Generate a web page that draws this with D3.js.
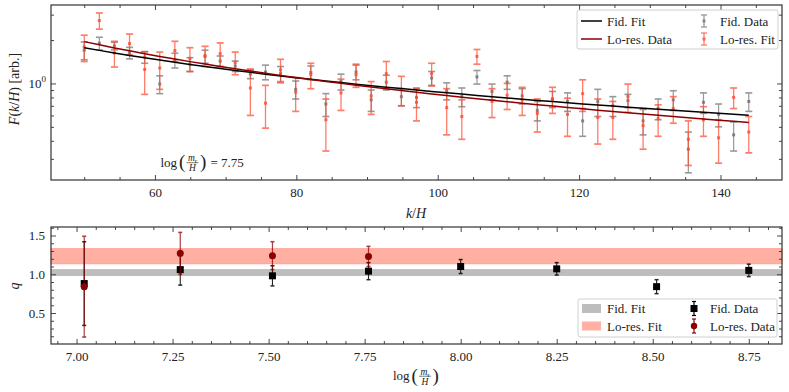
<!DOCTYPE html>
<html>
<head>
<meta charset="utf-8">
<script src="https://cdn.jsdelivr.net/npm/d3@7"></script>
<style>
  body { margin: 0; background: #fff; }
  svg, text { font-family: 'Liberation Serif', 'DejaVu Serif', serif; fill: #222; }
</style>
</head>
<body>
<script>
// top panel: F(k/H) at log(m_r/H) = 7.75
let kVals = [50.00, 52.14, 54.27, 56.41, 58.55, 60.68, 62.82, 64.95, 67.09, 69.23,
             71.36, 73.50, 75.64, 77.77, 79.91, 82.05, 84.18, 86.32, 88.45, 90.59,
             92.73, 94.86, 97.00, 99.14, 101.27, 103.41, 105.55, 107.68, 109.82, 111.95,
             114.09, 116.23, 118.36, 120.50, 122.64, 124.77, 126.91, 129.05, 131.18, 133.32,
             135.45, 137.59, 139.73, 141.86, 144.00]

let fidVal = [1.70, 1.90, 1.82, 1.63, 1.52, 0.99, 1.45, 1.36, 1.54, 1.43,
              1.32, 1.16, 1.20, 1.17, 0.91, 1.19, 0.72, 1.03, 1.20, 0.77,
              1.02, 0.81, 0.80, 1.09, 0.89, 0.81, 1.11, 0.88, 1.02, 0.82,
              0.65, 0.78, 0.75, 0.55, 0.75, 0.70, 0.76, 0.55, 0.67, 0.77,
              0.35, 0.74, 0.61, 0.44, 0.75]
let fidErr = [0.24, 0.19, 0.11, 0.15, 0.14, 0.14, 0.17, 0.15, 0.16, 0.12,
              0.11, 0.08, 0.14, 0.14, 0.13, 0.13, 0.13, 0.13, 0.14, 0.13,
              0.12, 0.11, 0.12, 0.12, 0.12, 0.12, 0.12, 0.11, 0.11, 0.10,
              0.10, 0.10, 0.11, 0.12, 0.16, 0.11, 0.08, 0.11, 0.11, 0.12,
              0.11, 0.12, 0.11, 0.10, 0.11]

let loVal = [1.79, 2.73, 1.63, 1.89, 1.25, 1.28, 1.69, 1.49, 1.56, 1.61,
             1.40, 0.93, 0.73, 1.24, 0.87, 1.15, 0.56, 0.86, 1.15, 0.82,
             1.17, 0.91, 0.74, 1.17, 0.68, 0.59, 1.54, 0.75, 0.83, 0.77,
             0.62, 0.78, 0.61, 0.85, 0.58, 0.58, 0.81, 0.51, 0.57, 0.67,
             0.41, 0.56, 0.42, 0.80, 0.46]
let loErr = [0.37, 0.35, 0.33, 0.31, 0.41, 0.37, 0.27, 0.28, 0.25, 0.30,
             0.25, 0.33, 0.24, 0.23, 0.23, 0.23, 0.22, 0.21, 0.21, 0.21,
             0.25, 0.21, 0.19, 0.21, 0.24, 0.18, 0.18, 0.17, 0.17, 0.17,
             0.16, 0.16, 0.18, 0.21, 0.20, 0.17, 0.18, 0.16, 0.14, 0.14,
             0.14, 0.13, 0.14, 0.13, 0.13]

// power law fits F = amp * (k/50)^(-q)
let fitPivot = 50
let fidFit = {amp: 1.77, q: 1.02}
let loFit = {amp: 1.95, q: 1.22}

// bottom panel: q vs log(m_r/H)
let logMr = [7.02, 7.27, 7.51, 7.76, 8.00, 8.25, 8.51, 8.75]
let qFid = [0.88, 1.06, 0.98, 1.04, 1.10, 1.07, 0.84, 1.05]
let qFidErr = [0.54, 0.20, 0.13, 0.11, 0.09, 0.08, 0.09, 0.08]
let qLoMr = [7.02, 7.27, 7.51, 7.76]
let qLo = [0.84, 1.27, 1.24, 1.23]
let qLoErr = [0.65, 0.27, 0.18, 0.13]
let qFidBand = [0.983, 1.060]
let qLoBand = [1.135, 1.330]

let xTopTicks = [60, 80, 100, 120, 140]
let xTopMinor = [50, 55, 65, 70, 75, 85, 90, 95, 105, 110, 115, 125, 130, 135, 145]
let yTopMinor = [0.3, 0.4, 0.5, 0.6, 0.7, 0.8, 0.9, 2, 3]
let xBotTicks = [7.00, 7.25, 7.50, 7.75, 8.00, 8.25, 8.50, 8.75]
let xBotMinor = [6.95, 7.05, 7.10, 7.15, 7.20, 7.30, 7.35, 7.40, 7.45, 7.55, 7.60, 7.65, 7.70,
                 7.80, 7.85, 7.90, 7.95, 8.05, 8.10, 8.15, 8.20, 8.30, 8.35, 8.40, 8.45,
                 8.55, 8.60, 8.65, 8.70, 8.80]
let yBotTicks = [0.5, 1.0, 1.5]
let yBotMinor = [0.2, 0.3, 0.4, 0.6, 0.7, 0.8, 0.9, 1.1, 1.2, 1.3, 1.4, 1.6]

let GRAY = '#6e6e6e'
let RED = '#ff4a30'
let DARKRED = '#8b0000'
let FS = 13

let svg = d3.select('body').append('svg')
            .attr('width', 789)
            .attr('height', 392)

let topBox = {l: 51, r: 782, t: 5, b: 180}
let botBox = {l: 51, r: 782, t: 227, b: 344}

let pad = (arr) => {
    let lo = d3.min(arr), hi = d3.max(arr), p = (hi - lo) * 0.05
    return [lo - p, hi + p]
}

let xTop = d3.scaleLinear().domain(pad(kVals)).range([topBox.l, topBox.r])
let yTop = d3.scaleLog().domain([0.214, 3.5]).range([topBox.b, topBox.t])
let xBot = d3.scaleLinear().domain(pad(logMr)).range([botBox.l, botBox.r])
let yBot = d3.scaleLinear().domain([0.10, 1.61]).range([botBox.b, botBox.t])

// inward ticks on all four sides
let frame = (box, xs, ys, xMaj, xMin, yMaj, yMin, xFmt) => {
    let g = svg.append('g')
    let sides = [
        [d3.axisBottom, xs, `translate(0,${box.b})`, xMaj, xMin, xFmt],
        [d3.axisTop, xs, `translate(0,${box.t})`, xMaj, xMin, null],
        [d3.axisLeft, ys, `translate(${box.l},0)`, yMaj, yMin, null],
        [d3.axisRight, ys, `translate(${box.r},0)`, yMaj, yMin, null]
    ]
    sides.forEach(([mk, sc, tr, maj, min, fmt]) => {
        g.append('g').attr('transform', tr)
         .call(mk(sc).tickValues(min).tickSize(-3).tickFormat(''))
         .call(a => a.select('.domain').remove())
        g.append('g').attr('transform', tr)
         .call(mk(sc).tickValues(maj).tickSize(-5).tickPadding(8).tickFormat(fmt ? fmt : ''))
         .call(a => a.select('.domain').remove())
    })
    g.selectAll('line').attr('stroke', '#333').attr('stroke-width', 0.9)
    g.selectAll('g').attr('font-family', null).attr('font-size', FS)
    g.selectAll('text').attr('fill', '#222')
    svg.append('rect').attr('x', box.l).attr('y', box.t)
       .attr('width', box.r - box.l).attr('height', box.b - box.t)
       .attr('fill', 'none').attr('stroke', '#333').attr('stroke-width', 1.2)
    return g
}

let errorbars = (g, xs, ys, xv, vals, errs, color, opts) => {
    let d = xv.map((x, i) => ({x: x, v: vals[i], e: errs[i]}))
    let eg = g.append('g').attr('stroke', color).attr('opacity', opts.alpha)
    eg.selectAll('.bar').data(d).join('line')
      .attr('x1', p => xs(p.x)).attr('x2', p => xs(p.x))
      .attr('y1', p => ys(p.v - p.e)).attr('y2', p => ys(p.v + p.e))
      .attr('stroke-width', opts.lw)
    ;[-1, 1].forEach(s => {
        eg.append('g').selectAll('line').data(d).join('line')
          .attr('x1', p => xs(p.x) - opts.cap).attr('x2', p => xs(p.x) + opts.cap)
          .attr('y1', p => ys(p.v + s * p.e)).attr('y2', p => ys(p.v + s * p.e))
          .attr('stroke-width', opts.lw + 0.4)
    })
    return d
}

// ---------- top panel ----------
let gTop = svg.append('g')

errorbars(gTop, xTop, yTop, kVals, fidVal, fidErr, GRAY, {alpha: 0.7, lw: 1.2, cap: 3.5})
gTop.append('g').selectAll('rect').data(kVals).join('rect')
    .attr('x', d => xTop(d) - 1.5).attr('y', (d, i) => yTop(fidVal[i]) - 1.5)
    .attr('width', 3).attr('height', 3).attr('fill', GRAY).attr('opacity', 0.8)

errorbars(gTop, xTop, yTop, kVals, loVal, loErr, RED, {alpha: 0.72, lw: 1.3, cap: 3.5})
gTop.append('g').selectAll('rect').data(kVals).join('rect')
    .attr('x', d => xTop(d) - 1.5).attr('y', (d, i) => yTop(loVal[i]) - 1.5)
    .attr('width', 3).attr('height', 3).attr('fill', RED).attr('opacity', 0.8)

let fitLine = (fit) => d3.line()
    .x(k => xTop(k))
    .y(k => yTop(fit.amp * Math.pow(k / fitPivot, -fit.q)))

gTop.append('path').datum(kVals).attr('d', fitLine(fidFit))
    .attr('fill', 'none').attr('stroke', '#000').attr('stroke-width', 1.5)
gTop.append('path').datum(kVals).attr('d', fitLine(loFit))
    .attr('fill', 'none').attr('stroke', DARKRED).attr('stroke-width', 1.5)

frame(topBox, xTop, yTop, xTopTicks, xTopMinor, [1], yTopMinor, d3.format('d'))

// 10^0 label
let lab0 = svg.append('text').attr('x', 46).attr('y', yTop(1) + 4.5)
              .attr('text-anchor', 'end').attr('font-size', FS)
lab0.append('tspan').text('10')
lab0.append('tspan').attr('font-size', 9).attr('dy', -6).text('0')

// log(m_r/H) fraction label
let logFrac = (x, y, suffix) => {
    let g = svg.append('g').attr('font-size', FS)
    g.append('text').attr('x', x).attr('y', y).text('log')
    g.append('text').attr('x', x + 18.5).attr('y', y + 1.5).attr('font-size', 19).text('(')
    let fx = x + 32
    let m = g.append('text').attr('x', fx).attr('y', y - 5.5).attr('text-anchor', 'middle').attr('font-size', 9.5)
    m.append('tspan').attr('font-style', 'italic').text('m')
    m.append('tspan').attr('font-size', 7).attr('dy', 2).text('r')
    g.append('line').attr('x1', fx - 6).attr('x2', fx + 6).attr('y1', y - 3.8).attr('y2', y - 3.8)
     .attr('stroke', '#222').attr('stroke-width', 0.6)
    g.append('text').attr('x', fx).attr('y', y + 4.5).attr('text-anchor', 'middle')
     .attr('font-size', 9.5).attr('font-style', 'italic').text('H')
    g.append('text').attr('x', fx + 7.5).attr('y', y + 1.5).attr('font-size', 19).text(')')
    if (suffix) g.append('text').attr('x', fx + 18).attr('y', y).text(suffix)
}
logFrac(160.5, 166.5, '= 7.75')

// axis labels
let yl = svg.append('text').attr('transform', 'translate(19,89) rotate(-90)')
            .attr('text-anchor', 'middle').attr('font-size', 14)
yl.append('tspan').attr('font-style', 'italic').text('F')
yl.append('tspan').text('(')
yl.append('tspan').attr('font-style', 'italic').text('k')
yl.append('tspan').text('/')
yl.append('tspan').attr('font-style', 'italic').text('H')
yl.append('tspan').text(') [arb.]')

let xl = svg.append('text').attr('x', 416).attr('y', 218)
            .attr('text-anchor', 'middle').attr('font-size', 14)
xl.append('tspan').attr('font-style', 'italic').text('k')
xl.append('tspan').text('/')
xl.append('tspan').attr('font-style', 'italic').text('H')

// top legend
let lg = svg.append('g')
lg.append('rect').attr('x', 577).attr('y', 10).attr('width', 201).attr('height', 39).attr('rx', 2)
  .attr('fill', '#fff').attr('fill-opacity', 0.85).attr('stroke', '#d0d0d0')
let topLegLines = [['Fid. Fit', '#000', 21], ['Lo-res. Data', DARKRED, 39]]
topLegLines.forEach(([t, c, y]) => {
    lg.append('line').attr('x1', 581).attr('x2', 602).attr('y1', y).attr('y2', y)
      .attr('stroke', c).attr('stroke-width', 1.5)
    lg.append('text').attr('x', 607).attr('y', y + 4.5).attr('font-size', FS).text(t)
})
let topLegBars = [['Fid. Data', GRAY, 21, 0.7], ['Lo-res. Fit', RED, 39, 0.72]]
topLegBars.forEach(([t, c, y, a]) => {
    let b = lg.append('g').attr('stroke', c).attr('opacity', a).attr('stroke-width', 1.3)
    b.append('line').attr('x1', 704).attr('x2', 704).attr('y1', y - 6).attr('y2', y + 6)
    b.append('line').attr('x1', 701).attr('x2', 707).attr('y1', y - 6).attr('y2', y - 6)
    b.append('line').attr('x1', 701).attr('x2', 707).attr('y1', y + 6).attr('y2', y + 6)
    lg.append('rect').attr('x', 702.5).attr('y', y - 1.5).attr('width', 3).attr('height', 3)
      .attr('fill', c).attr('opacity', a)
    lg.append('text').attr('x', 720).attr('y', y + 4.5).attr('font-size', FS).text(t)
})

// ---------- bottom panel ----------
let gBot = svg.append('g')
gBot.append('rect').attr('x', botBox.l).attr('width', botBox.r - botBox.l)
    .attr('y', yBot(qLoBand[1])).attr('height', yBot(qLoBand[0]) - yBot(qLoBand[1]))
    .attr('fill', '#ffb0a3').attr('stroke', '#ff9a88').attr('stroke-width', 0.8)
gBot.append('rect').attr('x', botBox.l).attr('width', botBox.r - botBox.l)
    .attr('y', yBot(qFidBand[1])).attr('height', yBot(qFidBand[0]) - yBot(qFidBand[1]))
    .attr('fill', '#bdbdbd').attr('stroke', '#b0b0b0').attr('stroke-width', 0.6)

errorbars(gBot, xBot, yBot, logMr, qFid, qFidErr, '#000', {alpha: 0.85, lw: 1.1, cap: 2})
gBot.append('g').selectAll('rect').data(logMr).join('rect')
    .attr('x', d => xBot(d) - 3.5).attr('y', (d, i) => yBot(qFid[i]) - 3.5)
    .attr('width', 7).attr('height', 7).attr('fill', '#000')

errorbars(gBot, xBot, yBot, qLoMr, qLo, qLoErr, DARKRED, {alpha: 0.75, lw: 1.2, cap: 2})
gBot.append('g').selectAll('circle').data(qLoMr).join('circle')
    .attr('cx', d => xBot(d)).attr('cy', (d, i) => yBot(qLo[i]))
    .attr('r', 3.5).attr('fill', DARKRED)

frame(botBox, xBot, yBot, xBotTicks, xBotMinor, yBotTicks, yBotMinor, d3.format('.2f'))

// left tick labels for q
svg.append('g').selectAll('text').data(yBotTicks).join('text')
   .attr('x', 45).attr('y', d => yBot(d) + 4.5).attr('text-anchor', 'end')
   .attr('font-size', FS).text(d3.format('.1f'))

svg.append('text').attr('transform', 'translate(19,286) rotate(-90)')
   .attr('text-anchor', 'middle').attr('font-size', 14).attr('font-style', 'italic').text('q')

logFrac(393, 380, null)

// bottom legend
let lb = svg.append('g')
lb.append('rect').attr('x', 578).attr('y', 299).attr('width', 199).attr('height', 38).attr('rx', 2)
  .attr('fill', '#fff').attr('fill-opacity', 0.85).attr('stroke', '#d0d0d0')
let botLegPatch = [['Fid. Fit', '#bdbdbd', 308.5], ['Lo-res. Fit', '#ffb0a3', 326]]
botLegPatch.forEach(([t, c, y]) => {
    lb.append('rect').attr('x', 582).attr('y', y - 4.5).attr('width', 19).attr('height', 9).attr('fill', c)
    lb.append('text').attr('x', 607).attr('y', y + 4.5).attr('font-size', FS).text(t)
})
let botLegMark = [['Fid. Data', '#000', 308.5, 'sq'], ['Lo-res. Data', DARKRED, 326, 'c']]
botLegMark.forEach(([t, c, y, m]) => {
    let b = lb.append('g').attr('stroke', c).attr('stroke-width', 1.2)
    b.append('line').attr('x1', 694).attr('x2', 694).attr('y1', y - 7).attr('y2', y + 7)
    b.append('line').attr('x1', 692).attr('x2', 696).attr('y1', y - 7).attr('y2', y - 7)
    b.append('line').attr('x1', 692).attr('x2', 696).attr('y1', y + 7).attr('y2', y + 7)
    if (m == 'sq') {
        lb.append('rect').attr('x', 690.5).attr('y', y - 3.5).attr('width', 7).attr('height', 7).attr('fill', c)
    } else {
        lb.append('circle').attr('cx', 694).attr('cy', y).attr('r', 3.2).attr('fill', c)
    }
    lb.append('text').attr('x', 710).attr('y', y + 4.5).attr('font-size', FS).text(t)
})
</script>
</body>
</html>
